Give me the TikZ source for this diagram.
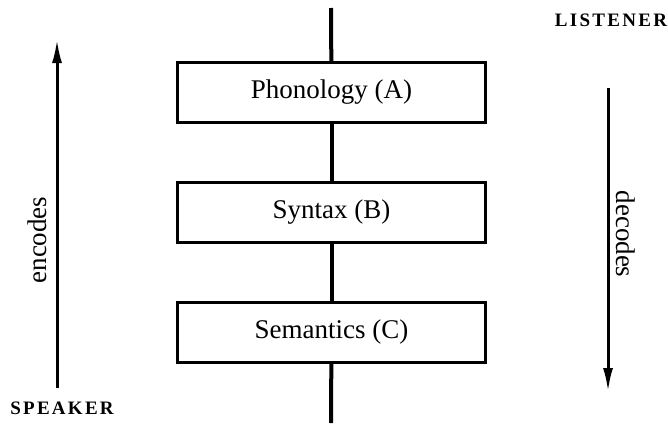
\documentclass[tikz,border=0pt]{standalone}
\usepackage{fontspec}
\setmainfont{Liberation Serif}
\usetikzlibrary{positioning,arrows.meta}

\begin{document}
\begin{tikzpicture}[x=0.5pt, y=-0.5pt, node distance={60pt},
  level/.style = {draw, line width=1.3pt, minimum width=154pt, minimum height=30pt, font=\fontsize{13.5}{15}\selectfont},
  role/.style = {font=\bfseries\fontsize{9.5}{11}\selectfont\addfontfeature{LetterSpace=12}},
  way/.style = {line width=1.5pt, -{Latex[length=12pt,width=5pt]}}]
\useasboundingbox (0,0) rectangle (668,423);
\node[level] (phon) at (331.5,92.5) {Phonology (A)};
\node[level] (syn) [below of=phon] {Syntax (B)};
\node[level] (sem) [below of=syn] {Semantics (C)};
\coordinate (top) at (331,8);
\coordinate (bot) at (331,423);
\draw[line width=2pt] (top) -- (phon);
\draw[line width=2pt] (phon) -- (syn);
\draw[line width=2pt] (syn) -- (sem);
\draw[line width=2pt] (sem) -- (bot);
% speaker side
\coordinate (spk) at (57,388);
\coordinate (spkend) at (57,39);
\draw[way] (spk) -- (spkend);
\node[font=\fontsize{13.5}{15}\selectfont, rotate=90] (encodes) at (37,240) {encodes};
\node[role] (speaker) at (62,408) {SPEAKER};
% listener side
\coordinate (lst) at (608,88);
\coordinate (lstend) at (608,392);
\draw[way] (lst) -- (lstend);
\node[font=\fontsize{13.5}{15}\selectfont, rotate=-90] (decodes) at (626,234) {decodes};
\node[role] (listener) at (611,20) {LISTENER};
\end{tikzpicture}
\end{document}
